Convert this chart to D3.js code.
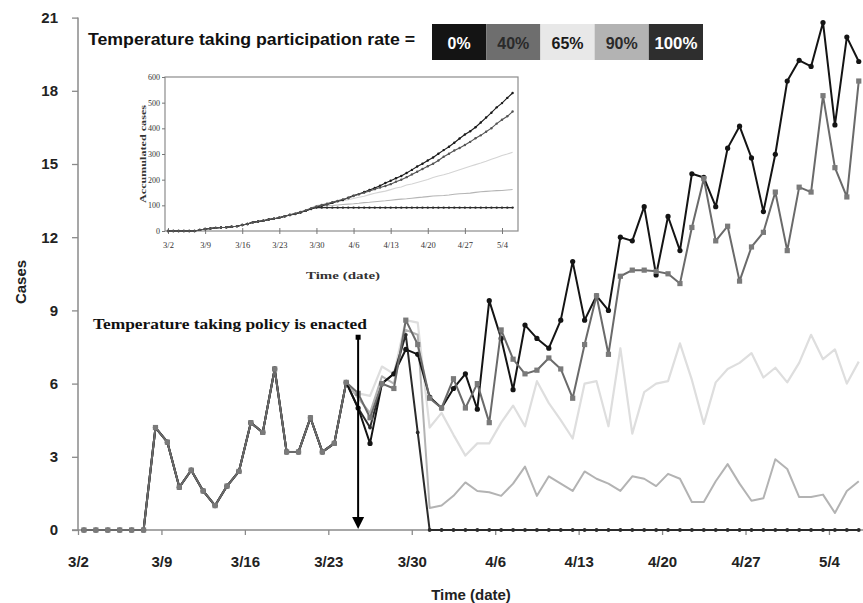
<!DOCTYPE html>
<html><head><meta charset="utf-8">
<script src="https://cdn.jsdelivr.net/npm/d3@7"></script>
<style>body{margin:0;background:#fff;} svg{display:block;}</style>
</head><body>
<svg id="c" width="863" height="603"></svg>
<script>
// ---------- data ----------
const tickDays   = [0, 7, 14, 21, 28, 35, 42, 49, 56, 63];
const tickLabels = ["3/2","3/9","3/16","3/23","3/30","4/6","4/13","4/20","4/27","5/4"];
const insetYTicks = [0, 100, 200, 300, 400, 500, 600];
const rateNames  = ["0%","40%","65%","90%","100%"];

// daily cases 3/2 .. 3/24 (shared by all scenarios)
const prePolicy = [0,0,0,0,0,0,4.2,3.6,1.75,2.45,1.6,1.0,1.8,2.4,4.4,4.0,6.6,3.2,3.2,4.6,3.2,3.55,6.05];
// daily cases 3/25 .. 5/6 per participation rate
const post0   = [5.0,3.55,6.0,6.4,7.4,7.2, 5.45,5.0,5.8,6.4,4.95, 9.4,7.85,5.75,8.4,7.85, 7.45,8.6,11.0,8.6,9.6,
                 9.0,12.0,11.85,13.25,10.45, 12.85,11.45,14.6,14.45,13.25, 15.65,16.55,15.25,13.05,15.4,
                 18.4,19.25,19.0,20.8,16.6, 20.2,19.2];
const post40  = [5.6,4.6,6.0,5.8,8.6,7.6, 5.4,5.0,6.2,5.0,6.0, 4.4,8.2,7.0,6.4,6.55, 7.05,6.6,5.4,7.6,9.6,
                 7.2,10.4,10.65,10.65,10.6, 10.5,10.1,12.4,14.4,11.85, 12.45,10.2,11.6,12.2,13.85,
                 11.45,14.05,13.85,17.8,14.85, 13.65,18.4];
const post65  = [5.6,5.5,6.7,6.4,8.6,8.5, 4.2,4.8,3.9,3.05,3.55, 3.55,4.4,5.1,4.25,6.1, 5.2,4.5,3.75,6.0,6.1,
                 4.25,7.45,3.95,5.65,6.0, 6.1,7.65,6.15,4.35,6.05, 6.6,6.85,7.25,6.25,6.65,
                 6.05,6.85,8.0,7.0,7.4, 6.0,6.9];
const post90  = [5.4,4.8,6.3,6.0,8.2,8.0, 0.9,1.0,1.4,1.95,1.6, 1.55,1.4,1.9,2.6,1.4, 2.2,1.9,1.6,2.4,2.1,
                 1.9,1.6,2.2,2.1,1.8, 2.3,2.1,1.15,1.15,2.0, 2.7,1.9,1.2,1.3,2.9,
                 2.5,1.35,1.35,1.45,0.7, 1.6,2.0];
const post100 = [5.0,4.2,6.0,6.4,8.0,4.0, 0,0,0,0,0, 0,0,0,0,0, 0,0,0,0,0,
                 0,0,0,0,0, 0,0,0,0,0, 0,0,0,0,0,
                 0,0,0,0,0, 0,0];
const policyDay = 23, policyArrowTop = 7.9;

const series = [
  {name:"65%",  vals: prePolicy.concat(post65),  stroke:"#dedede", width:2.2, marker:"none"},
  {name:"90%",  vals: prePolicy.concat(post90),  stroke:"#b3b3b3", width:2.0, marker:"none"},
  {name:"100%", vals: prePolicy.concat(post100), stroke:"#2b2b2b", width:2.0, marker:"dot"},
  {name:"0%",   vals: prePolicy.concat(post0),   stroke:"#141414", width:2.0, marker:"circle"},
  {name:"40%",  vals: prePolicy.concat(post40),  stroke:"#6a6a6a", width:2.0, marker:"square"}
];
const legendFill = {"0%":"#141414","40%":"#6e6e6e","65%":"#e8e8e8","90%":"#b3b3b3","100%":"#2e2e2e"};
const legendText = {"0%":"#ffffff","40%":"#2a2a2a","65%":"#1a1a1a","90%":"#2a2a2a","100%":"#ffffff"};

// ---------- main chart ----------
const svg = d3.select("#c");
const nDays = prePolicy.length + post0.length; // 66
const x = d3.scaleLinear().domain([0, nDays]).range([78, 78 + nDays * 11.92]);
const y = d3.scaleLinear().domain([0, 21]).range([530, 17.6]);
const px = d => x(d + 0.5);
const axisCol = "#8a8a8a";
const sans = "'Liberation Sans', Arial, sans-serif";
const serif = "'Liberation Serif', 'Times New Roman', serif";

// y axis
const gy = svg.append("g").attr("transform", `translate(${x(0)},0)`)
  .call(d3.axisLeft(y).tickValues(d3.range(0, 22, 3)).tickSize(6).tickPadding(14));
gy.select(".domain").remove();
gy.selectAll(".tick line").attr("stroke", axisCol).attr("stroke-width", 1.3);
gy.selectAll(".tick text").attr("font-family", sans).attr("font-weight", "bold")
  .attr("font-size", 15).attr("fill", "#222");
svg.append("line").attr("x1", x(0)).attr("x2", x(0)).attr("y1", y(21)).attr("y2", y(0))
  .attr("stroke", axisCol).attr("stroke-width", 1.5);

// x axis
const gx = svg.append("g").attr("transform", `translate(0,${y(0)})`)
  .call(d3.axisBottom(x).tickValues(tickDays).tickFormat((d, i) => tickLabels[i]).tickSize(5).tickPadding(21));
gx.select(".domain").remove();
gx.selectAll(".tick line").attr("stroke", axisCol).attr("stroke-width", 1.3);
gx.selectAll(".tick text").attr("font-family", sans).attr("font-weight", "bold")
  .attr("font-size", 15).attr("fill", "#222");
svg.append("line").attr("x1", x(0) - 6).attr("x2", 863).attr("y1", y(0)).attr("y2", y(0))
  .attr("stroke", axisCol).attr("stroke-width", 1.5);

// axis titles
svg.append("text").attr("x", 471).attr("y", 600).attr("text-anchor", "middle")
  .attr("font-family", sans).attr("font-weight", "bold").attr("font-size", 15).attr("fill", "#222")
  .text("Time (date)");
svg.append("text").attr("transform", "translate(26,282) rotate(-90)").attr("text-anchor", "middle")
  .attr("font-family", sans).attr("font-weight", "bold").attr("font-size", 15).attr("fill", "#222")
  .text("Cases");

// series
const line = d3.line().x((v, i) => px(i)).y(v => y(v));
series.forEach(s => {
  const g = svg.append("g");
  g.append("path").attr("d", line(s.vals)).attr("fill", "none")
    .attr("stroke", s.stroke).attr("stroke-width", s.width).attr("stroke-linejoin", "round");
  if (s.marker === "circle") {
    g.selectAll("circle").data(s.vals).join("circle")
      .attr("cx", (v, i) => px(i)).attr("cy", v => y(v)).attr("r", 2.6).attr("fill", s.stroke);
  } else if (s.marker === "square") {
    g.selectAll("rect").data(s.vals).join("rect")
      .attr("x", (v, i) => px(i) - 2.6).attr("y", v => y(v) - 2.6)
      .attr("width", 5.2).attr("height", 5.2).attr("fill", "#7a7a7a");
  } else if (s.marker === "dot") {
    g.selectAll("circle").data(s.vals).join("circle")
      .attr("cx", (v, i) => px(i)).attr("cy", v => y(v)).attr("r", 1.9).attr("fill", s.stroke);
  }
});

// policy arrow
const ax = px(policyDay);
svg.append("line").attr("x1", ax).attr("x2", ax).attr("y1", y(policyArrowTop)).attr("y2", y(0) - 8)
  .attr("stroke", "#000").attr("stroke-width", 2);
svg.append("rect").attr("x", ax - 2.5).attr("y", y(policyArrowTop) - 2.5).attr("width", 5).attr("height", 5).attr("fill", "#000");
svg.append("path").attr("d", `M${ax - 6},${y(0) - 13} L${ax + 6},${y(0) - 13} L${ax},${y(0) - 1} Z`).attr("fill", "#000");
svg.append("text").attr("x", 93).attr("y", 329)
  .attr("font-family", serif).attr("font-weight", "bold").attr("font-size", 15).attr("fill", "#111")
  .attr("textLength", 274).attr("lengthAdjust", "spacingAndGlyphs")
  .text("Temperature taking policy is enacted");

// legend
svg.append("text").attr("x", 88).attr("y", 45)
  .attr("font-family", sans).attr("font-weight", "bold").attr("font-size", 17).attr("fill", "#111")
  .attr("textLength", 327).attr("lengthAdjust", "spacingAndGlyphs")
  .text("Temperature taking participation rate =");
const legOrder = ["0%","40%","65%","90%","100%"];
const legX = d3.scaleBand().domain(legOrder).range([432, 703]);
const legW = {"0%":23,"40%":32,"65%":32,"90%":32,"100%":43};
legOrder.forEach(n => {
  svg.append("rect").attr("x", legX(n)).attr("y", 24).attr("width", legX.bandwidth()).attr("height", 36)
    .attr("fill", legendFill[n]);
  svg.append("text").attr("x", legX(n) + legX.bandwidth() / 2).attr("y", 49).attr("text-anchor", "middle")
    .attr("font-family", sans).attr("font-weight", "bold").attr("font-size", 16).attr("fill", legendText[n])
    .attr("textLength", legW[n]).attr("lengthAdjust", "spacingAndGlyphs").text(n);
});

// ---------- inset: accumulated cases ----------
const xi = d3.scaleLinear().domain([0, 63]).range([168, 502]);
const yi = d3.scaleLinear().domain([0, 600]).range([231, 77]);
const ins = svg.append("g");
ins.append("rect").attr("x", 165).attr("y", yi(600)).attr("width", 518 - 165).attr("height", yi(0) - yi(600))
  .attr("fill", "#fff").attr("stroke", "#8c8c8c").attr("stroke-width", 1.2);
const giy = ins.append("g").attr("transform", "translate(165,0)")
  .call(d3.axisLeft(yi).tickValues(insetYTicks).tickSize(3).tickPadding(2));
giy.select(".domain").remove();
giy.selectAll(".tick line").attr("stroke", "#777");
giy.selectAll(".tick text").attr("font-family", serif).attr("font-size", 8).attr("fill", "#333");
const gix = ins.append("g").attr("transform", `translate(0,${yi(0)})`)
  .call(d3.axisBottom(xi).tickValues(tickDays).tickFormat((d, i) => tickLabels[i]).tickSize(3).tickPadding(8));
gix.select(".domain").remove();
gix.selectAll(".tick line").attr("stroke", "#777").attr("y1", -3);
gix.selectAll(".tick text").attr("font-family", serif).attr("font-size", 8.5).attr("fill", "#333");
ins.append("text").attr("x", 343).attr("y", 279).attr("text-anchor", "middle")
  .attr("font-family", serif).attr("font-weight", "bold").attr("font-size", 11).attr("fill", "#333")
  .attr("textLength", 74).attr("lengthAdjust", "spacingAndGlyphs").text("Time (date)");
ins.append("text").attr("transform", "translate(146,154) rotate(-90)").attr("text-anchor", "middle")
  .attr("font-family", serif).attr("font-weight", "bold").attr("font-size", 9).attr("fill", "#333")
  .attr("textLength", 98).attr("lengthAdjust", "spacingAndGlyphs").text("Accumulated cases");

const insetStyle = {"0%":["#1a1a1a",true],"40%":["#555",true],"65%":["#d4d4d4",false],"90%":["#b5b5b5",false],"100%":["#2b2b2b",true]};
const lineI = d3.line().x((v, i) => xi(i)).y(v => yi(v));
series.forEach(s => {
  const cum = Array.from(d3.cumsum(s.vals));
  const st = insetStyle[s.name];
  ins.append("path").attr("d", lineI(cum)).attr("fill", "none").attr("stroke", st[0]).attr("stroke-width", 1.1);
  if (st[1]) {
    ins.append("g").selectAll("circle").data(cum).join("circle")
      .attr("cx", (v, i) => xi(i)).attr("cy", v => yi(v)).attr("r", 1.2).attr("fill", st[0]);
  }
});
</script>
</body></html>
